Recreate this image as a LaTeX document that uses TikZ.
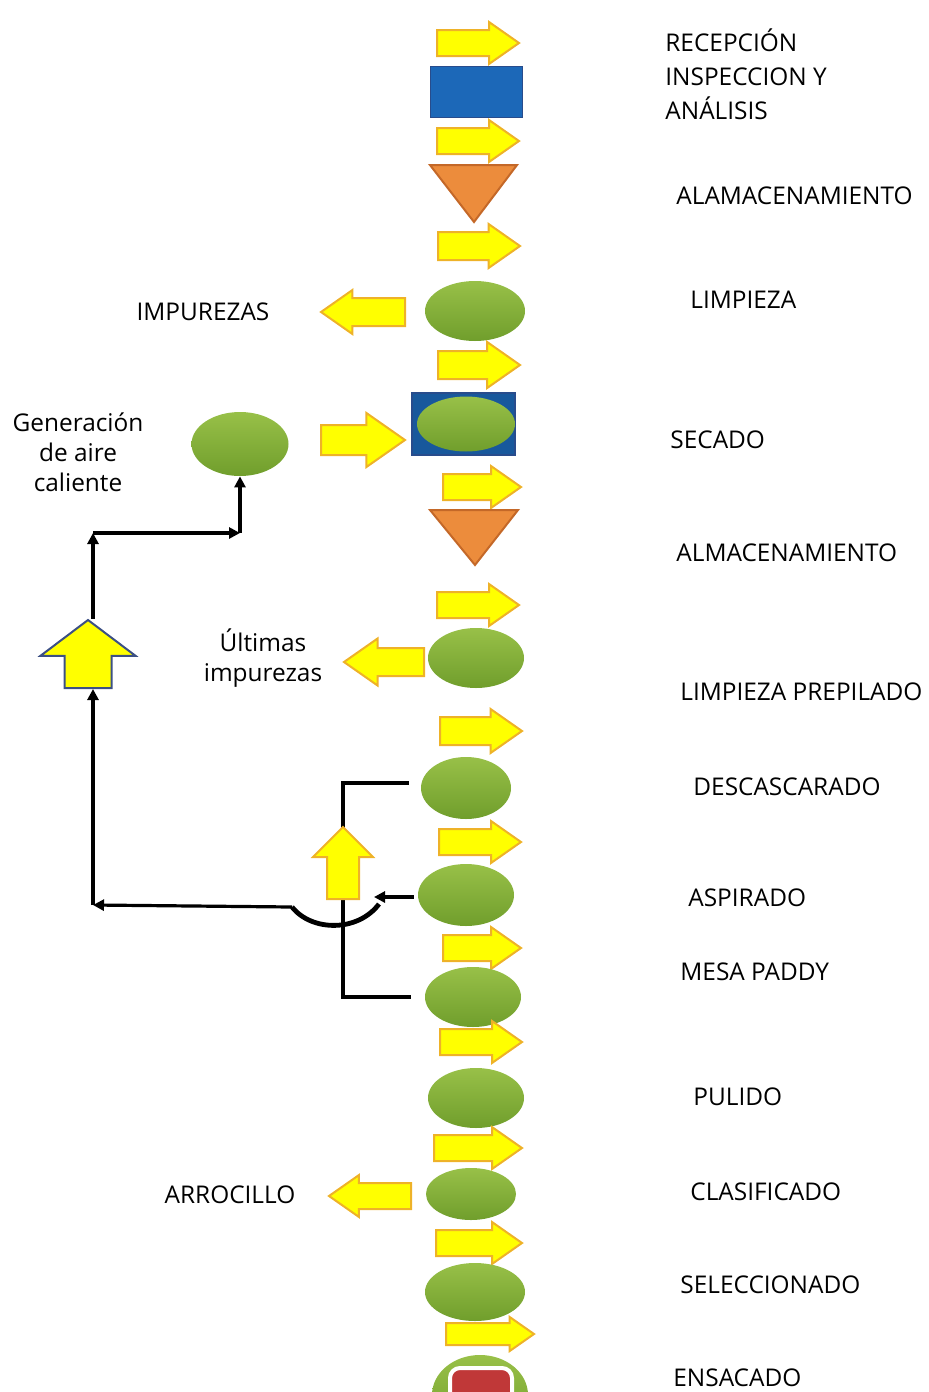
\documentclass[tikz,border=0pt]{standalone}
\usepackage{fontspec}
\setmainfont{Open Sans}
\usetikzlibrary{arrows.meta, positioning, shapes.geometric, shapes.arrows}

\definecolor{flowyellow}{RGB}{255,255,0}
\definecolor{flowgold}{RGB}{238,178,40}
\definecolor{greentop}{RGB}{152,192,72}
\definecolor{greenbot}{RGB}{112,158,44}
\definecolor{boxblue}{RGB}{28,104,184}
\definecolor{boxedge}{RGB}{40,76,140}
\definecolor{storeorange}{RGB}{236,140,60}
\definecolor{storeedge}{RGB}{196,104,40}
\definecolor{bagred}{RGB}{192,56,56}
\definecolor{upedge}{RGB}{60,80,132}

\begin{document}
\begin{tikzpicture}[x=0.5pt, y=-0.5pt,
    blk/.style={single arrow, draw=flowgold, fill=flowyellow, line width=1pt, inner xsep=0pt, inner ysep=6pt,
        single arrow tip angle=70, minimum height=41pt, single arrow head extend=4pt, anchor=tail},
    lft/.style={blk, shape border rotate=180},
    upblk/.style={blk, shape border rotate=90, inner ysep=0pt},
    proc/.style={ellipse, draw=none, top color=greentop, bottom color=greenbot, inner sep=0pt,
        minimum width=48pt, minimum height=30pt},
    lbl/.style={anchor=west, inner xsep=0pt, font=\fontsize{12.2}{14}\selectfont, text=black},
    side/.style={align=center, font=\fontsize{12.2}{15}\selectfont, text=black},
    arr/.style={-{Triangle[length=5.5pt,width=5.5pt]}, line width=1.6pt},
    ln/.style={line width=1.6pt}
]
\clip (0,0) rectangle (928,1392);

% main line of process
\node[blk] (a1) at (436,43) {};
\node[draw=boxedge, fill=boxblue, minimum width=46pt, minimum height=25.5pt, inner sep=0pt] (recep) at (476,92) {};
\node[blk] (a2) at (436,141) {};
\draw[fill=storeorange, draw=storeedge, line width=1pt] (430,165) -- (517,165) -- (474,222) -- cycle;
\coordinate (store1) at (474,185);
\node[blk, inner ysep=6.5pt] (a3) at (437,246) {};
\node[proc, minimum width=50pt] (limp) at (475,311) {};
\node[blk, inner ysep=6.5pt, single arrow head extend=4.5pt] (a4) at (437,365) {};
\node[draw=boxedge, fill=boxblue!85!black, line width=1pt, minimum width=51.5pt, minimum height=31pt, inner sep=0pt] (secbox) at (463.5,424) {};
\node[proc, minimum width=49pt, minimum height=27.5pt] (sec) at (466,424) {};
\node[blk, minimum height=39pt] (a5) at (442,487) {};
\draw[fill=storeorange, draw=storeedge, line width=1pt] (430,510) -- (518,510) -- (475,565) -- cycle;
\coordinate (store2) at (475,528);
\node[blk] (a6) at (436,605) {};
\node[proc] (prep) at (476,658) {};
\node[blk, inner ysep=6.5pt] (a7) at (439,731) {};
\node[proc, minimum width=45pt, minimum height=31pt] (desc) at (466,788) {};
\node[blk] (a8) at (438,842) {};
\node[proc, minimum height=31pt] (asp) at (466,895) {};
\node[blk, minimum height=39pt] (a9) at (442,948) {};
\node[proc] (mesa) at (473,997) {};
\node[blk] (a10) at (439,1042) {};
\node[proc] (pul) at (476,1098) {};
\node[blk, minimum height=44pt] (a11) at (433,1148) {};
\node[proc, minimum width=45pt, minimum height=26pt] (clas) at (471,1194) {};
\node[blk, minimum height=43pt] (a12) at (435,1243) {};
\node[proc, minimum width=50pt, minimum height=29pt] (sel) at (475,1292) {};
\node[blk, minimum height=44pt, inner ysep=5pt, single arrow head extend=3pt] (a13) at (445,1334) {};
\node[proc, minimum width=48pt, minimum height=40pt] (ens) at (480,1395) {};
\node[fill=bagred, draw=white, line width=2pt, rounded corners=5pt, minimum width=31pt, minimum height=18pt, inner sep=0pt] (bag) at (481,1386) {};

% side outputs
\node[lft, minimum height=42pt, inner ysep=6.5pt] (out1) at (406,312) {};
\node[lft, minimum height=40pt, inner ysep=6.5pt, single arrow head extend=4.75pt] (out2) at (425,662) {};
\node[lft, minimum height=41pt] (out3) at (412,1196) {};
\node[side] (imp) at (203,312) {IMPUREZAS};
\node[side] (ult) at (263,658) {Últimas\\impurezas};
\node[side] (arroc) at (230,1195) {ARROCILLO};

% hot air loop
\node[proc, minimum width=48.5pt, minimum height=32pt] (gen) at (240,444) {};
\node[blk, minimum height=42pt, inner ysep=7pt, single arrow head extend=6pt] (air) at (320,440) {};
\node[side] (genlbl) at (78,452) {Generación\\de aire\\caliente};
\node[upblk, draw=upedge, single arrow tip angle=106, minimum height=34pt,
    inner xsep=11.25pt, single arrow head extend=12pt] (bigup) at (88,689) {};

\coordinate (c1) at (93,533);
\coordinate (c2) at (240,533);
\coordinate (join) at (93,905);
\coordinate (hopl) at (292,907);
\coordinate (hopr) at (379,904);
\coordinate (tipr) at (374,897);
\coordinate (split) at (343,783);

\draw[arr] (bigup.tip -| c1) -- (c1);
\draw[arr] (c1) -- (c2);
\draw[arr] (c2) -- (gen.south -| c2);
\draw[arr] (join) -- (bigup.tail -| join);
\draw[arr] (hopl) -- (join);

% collection from hulling
\draw[ln] ([xshift=-6pt]desc.west |- split) -- (split) |- ([xshift=-7pt]mesa.west);
\draw[arr] ([xshift=-2pt]asp.west |- tipr) -- (tipr);
\draw[line width=2.4pt] (hopr) .. controls (358,932) and (312,932) .. (hopl);
\node[upblk, single arrow tip angle=90, minimum height=36pt,
    inner xsep=7.5pt, single arrow head extend=7pt] (husk) at (343,900) {};

% step names
\node[lbl] (t1) at (665,40) {RECEPCIÓN};
\node[lbl] (t2) at (665,77) {INSPECCION Y};
\node[lbl] (t3) at (665,108) {ANÁLISIS};
\node[lbl] (t4) at (676,196) {ALAMACENAMIENTO};
\node[lbl] (t5) at (690,300) {LIMPIEZA};
\node[lbl] (t6) at (670,440) {SECADO};
\node[lbl] (t7) at (676,553) {ALMACENAMIENTO};
\node[lbl] (t8) at (680,692) {LIMPIEZA PREPILADO};
\node[lbl] (t9) at (693,787) {DESCASCARADO};
\node[lbl] (t10) at (688,898) {ASPIRADO};
\node[lbl] (t11) at (680,972) {MESA PADDY};
\node[lbl] (t12) at (693,1097) {PULIDO};
\node[lbl] (t13) at (690,1192) {CLASIFICADO};
\node[lbl] (t14) at (680,1285) {SELECCIONADO};
\node[lbl] (t15) at (673,1378) {ENSACADO};
\end{tikzpicture}
\end{document}
